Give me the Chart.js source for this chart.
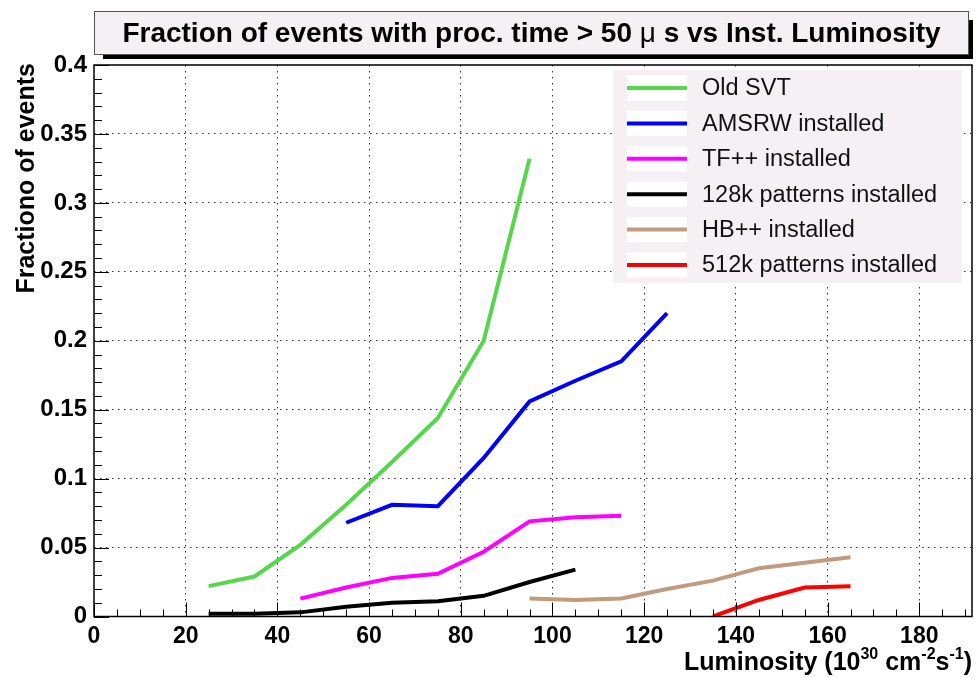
<!DOCTYPE html>
<html>
<head>
<meta charset="utf-8">
<script src="https://cdn.jsdelivr.net/npm/chart.js@4.4.1/dist/chart.umd.min.js"></script>
<style>
  html, body { margin: 0; padding: 0; background: #ffffff; }
  #wrap { width: 976px; height: 678px; }
</style>
</head>
<body>
<div id="wrap"><canvas id="c" width="976" height="678"></canvas></div>
<script>
// Luminosity (10^30 cm^-2 s^-1) and fraction of events with processing time > 50 us
const lumOldSvt = [25, 35, 45, 55, 65, 75, 85, 95];
const fracOldSvt = [0.022, 0.029, 0.052, 0.081, 0.112, 0.144, 0.200, 0.332];

const lumAmsrw = [55, 65, 75, 85, 95, 105, 115, 125];
const fracAmsrw = [0.068, 0.081, 0.080, 0.115, 0.156, 0.171, 0.185, 0.220];

const lumTf = [45, 55, 65, 75, 85, 95, 105, 115];
const fracTf = [0.013, 0.021, 0.028, 0.031, 0.047, 0.069, 0.072, 0.073];

const lum128k = [25, 35, 45, 55, 65, 75, 85, 95, 105];
const frac128k = [0.002, 0.002, 0.003, 0.007, 0.010, 0.011, 0.015, 0.025, 0.034];

const lumHb = [95, 105, 115, 125, 135, 145, 155, 165];
const fracHb = [0.013, 0.012, 0.013, 0.020, 0.026, 0.035, 0.039, 0.043];

const lum512k = [135, 145, 155, 165];
const frac512k = [0.000, 0.012, 0.021, 0.022];

const seriesNames = ['Old SVT', 'AMSRW installed', 'TF++ installed',
  '128k patterns installed', 'HB++ installed', '512k patterns installed'];
const seriesColors = ['#55d64b', '#0000ff', '#ff00ff', '#000000', '#bf9c80', '#ff0000'];

const xTickValues = [0, 20, 40, 60, 80, 100, 120, 140, 160, 180];
const yTickValues = [0, 0.05, 0.1, 0.15, 0.2, 0.25, 0.3, 0.35, 0.4];

// title split so the Greek mu can be drawn in a lighter face
const titleParts = [
  ['Fraction of events with proc. time > 50 ', 'bold'],
  ['\u03bc', 'normal'],
  [' s vs Inst. Luminosity', 'bold']
];
const yAxisTitle = 'Fractiono of events';

const FONT = '"Liberation Sans", Arial, Helvetica, sans-serif';
const X_MAX = 191.5;
const Y_MAX = 0.4;

function pairs(xs, ys) { return xs.map((x, i) => ({ x: x, y: ys[i] })); }

const seriesData = [
  pairs(lumOldSvt, fracOldSvt),
  pairs(lumAmsrw, fracAmsrw),
  pairs(lumTf, fracTf),
  pairs(lum128k, frac128k),
  pairs(lumHb, fracHb),
  pairs(lum512k, frac512k)
];

const datasets = seriesData.map((d, i) => ({
  label: seriesNames[i],
  data: d,
  borderColor: seriesColors[i],
  backgroundColor: seriesColors[i],
  borderWidth: 4,
  pointRadius: 0,
  tension: 0,
  fill: false,
  borderCapStyle: 'butt',
  borderJoinStyle: 'miter'
}));

// Frame, inward ticks, title pave, legend and axis titles
const decorations = {
  id: 'decorations',
  beforeDraw(chart) {
    const ctx = chart.ctx;
    ctx.save();
    ctx.fillStyle = '#ffffff';
    ctx.fillRect(0, 0, chart.width, chart.height);
    ctx.restore();
  },
  afterDatasetsDraw(chart) {
    const ctx = chart.ctx;
    const a = chart.chartArea;
    const xs = chart.scales.x, ys = chart.scales.y;
    ctx.save();
    ctx.strokeStyle = '#000000';
    ctx.lineWidth = 1;
    // x ticks (inward from bottom)
    for (let v = 0; v <= X_MAX + 1e-9; v += 5) {
      const px = Math.round(xs.getPixelForValue(v)) + 0.5;
      const major = Math.abs(v % 20) < 1e-9;
      const len = major ? 14 : 7;
      ctx.beginPath();
      ctx.moveTo(px, a.bottom);
      ctx.lineTo(px, a.bottom - len);
      ctx.stroke();
    }
    // y ticks (inward from left)
    for (let k = 0; k <= 40; k++) {
      const v = k / 100;
      const py = Math.round(ys.getPixelForValue(v)) + 0.5;
      const major = k % 5 === 0;
      const len = major ? 15 : 8;
      ctx.beginPath();
      ctx.moveTo(a.left, py);
      ctx.lineTo(a.left + len, py);
      ctx.stroke();
    }
    // frame
    ctx.lineWidth = 1.5;
    ctx.strokeRect(a.left, a.top, a.right - a.left, a.bottom - a.top);
    ctx.restore();
  },
  afterDraw(chart) {
    const ctx = chart.ctx;
    const a = chart.chartArea;
    ctx.save();

    // title pave with shadow
    const bx = 94, by = 11, bw = 875, bh = 44;
    ctx.fillStyle = '#000000';
    ctx.fillRect(bx + 9, by + bh, bw - 5, 4);
    ctx.fillRect(bx + bw, by + 9, 4, bh - 5);
    ctx.fillStyle = '#f5f0f3';
    ctx.fillRect(bx, by, bw, bh);
    ctx.strokeStyle = '#555555';
    ctx.lineWidth = 1;
    ctx.strokeRect(bx + 0.5, by + 0.5, bw - 1, bh - 1);
    ctx.fillStyle = '#000000';
    ctx.textAlign = 'left';
    ctx.textBaseline = 'middle';
    let tw = 0;
    titleParts.forEach(p => { ctx.font = p[1] + ' 28px ' + FONT; tw += ctx.measureText(p[0]).width; });
    let tx = bx + bw / 2 - tw / 2;
    titleParts.forEach(p => {
      ctx.font = p[1] + ' 28px ' + FONT;
      ctx.fillText(p[0], tx, by + bh / 2 + 1);
      tx += ctx.measureText(p[0]).width;
    });

    // legend
    const lx = 613, ly = 70, lw = 349, lh = 213;
    ctx.fillStyle = '#f5f0f3';
    ctx.fillRect(lx, ly, lw, lh);
    const rowY0 = 88, rowStep = 35.4;
    ctx.font = '23.5px ' + FONT;
    ctx.textAlign = 'left';
    ctx.textBaseline = 'middle';
    seriesNames.forEach((name, i) => {
      const yy = rowY0 + i * rowStep;
      ctx.fillStyle = '#ffffff';
      ctx.fillRect(627, yy - 12.5, 60, 25);
      ctx.strokeStyle = seriesColors[i];
      ctx.lineWidth = 4;
      ctx.beginPath();
      ctx.moveTo(627, yy);
      ctx.lineTo(687, yy);
      ctx.stroke();
      ctx.fillStyle = '#111111';
      ctx.fillText(name, 702, yy + 1);
    });

    // y-axis title, right-aligned to the top of the axis
    ctx.save();
    ctx.translate(27, a.top - 2);
    ctx.rotate(-Math.PI / 2);
    ctx.font = 'bold 25px ' + FONT;
    ctx.fillStyle = '#000000';
    ctx.textAlign = 'right';
    ctx.textBaseline = 'middle';
    ctx.fillText(yAxisTitle, 0, 0);
    ctx.restore();

    // x-axis title with superscripts, right-aligned to the end of the axis
    const parts = [
      ['Luminosity (10', false], ['30', true], [' cm', false], ['-2', true],
      ['s', false], ['-1', true], [')', false]
    ];
    const big = 'bold 25px ' + FONT, small = 'bold 16px ' + FONT;
    let total = 0;
    parts.forEach(p => { ctx.font = p[1] ? small : big; total += ctx.measureText(p[0]).width; });
    let cx = a.right - total;
    const base = 670;
    ctx.fillStyle = '#000000';
    ctx.textAlign = 'left';
    ctx.textBaseline = 'alphabetic';
    parts.forEach(p => {
      ctx.font = p[1] ? small : big;
      ctx.fillText(p[0], cx, p[1] ? base - 11 : base);
      cx += ctx.measureText(p[0]).width;
    });

    ctx.restore();
  }
};

new Chart(document.getElementById('c'), {
  type: 'line',
  data: { datasets: datasets },
  options: {
    responsive: false,
    animation: false,
    devicePixelRatio: 1,
    layout: { padding: { top: 65, right: 4, left: 0, bottom: 0 } },
    plugins: {
      legend: { display: false },
      title: { display: false },
      tooltip: { enabled: false }
    },
    scales: {
      x: {
        type: 'linear',
        min: 0,
        max: X_MAX,
        afterFit(scale) { scale.height = 61.5; },
        afterBuildTicks(scale) { scale.ticks = xTickValues.map(v => ({ value: v })); },
        ticks: {
          includeBounds: false,
          padding: 6,
          color: '#000000',
          font: { family: FONT, size: 23, weight: 'bold' },
          maxRotation: 0,
          autoSkip: false,
          callback: v => String(v)
        },
        grid: {
          color: c => (c.tick && (c.tick.value === 0) ? 'rgba(0,0,0,0)' : '#333333'),
          lineWidth: 1,
          drawTicks: false
        },
        border: { display: false, dash: [1.5, 4.5] }
      },
      y: {
        type: 'linear',
        min: 0,
        max: Y_MAX,
        afterFit(scale) { scale.width = 94; },
        afterBuildTicks(scale) { scale.ticks = yTickValues.map(v => ({ value: v })); },
        ticks: {
          padding: 7,
          color: '#000000',
          font: { family: FONT, size: 24, weight: 'bold' },
          autoSkip: false,
          callback: v => String(parseFloat(v.toFixed(2)))
        },
        grid: {
          color: c => (c.tick && (c.tick.value === 0 || c.tick.value >= Y_MAX) ? 'rgba(0,0,0,0)' : '#333333'),
          lineWidth: 1,
          drawTicks: false
        },
        border: { display: false, dash: [1.5, 4.5] }
      }
    }
  },
  plugins: [decorations]
});
</script>
</body>
</html>
